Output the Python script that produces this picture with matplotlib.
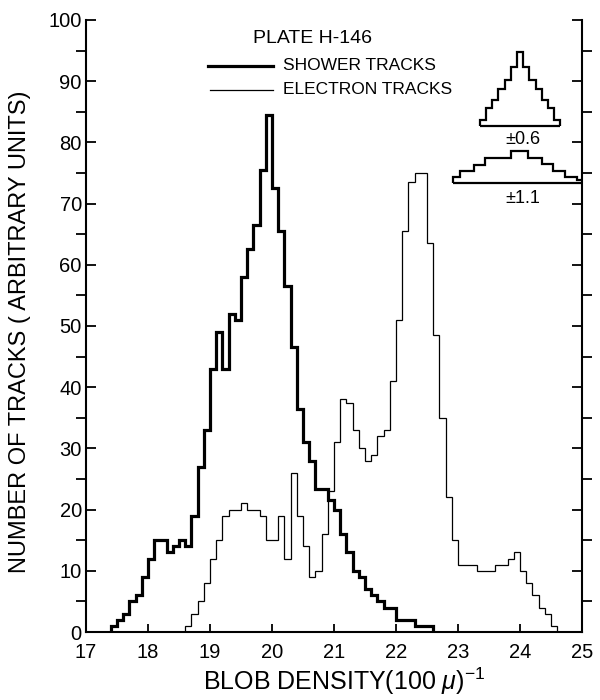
import numpy as np
import matplotlib
matplotlib.use("Agg")
import matplotlib.pyplot as plt
from matplotlib import font_manager

# blob density histograms, bins of 0.1 (100 mu)^-1
shower_start = 17.4
shower = [1, 2, 3, 5, 6, 9, 12, 15, 15, 13, 14, 15, 14, 19, 27, 33,
          43, 49, 43, 52, 51, 58, 62.5, 66.5, 75.5, 84.5, 72.5, 65.5, 56.5, 46.5,
          36.5, 31, 28, 23.3, 23.3, 21.5, 20, 16, 13, 10, 9, 7, 6, 5, 4, 4,
          2, 2, 2, 1, 1, 1]
electron_start = 18.6
electron = [1, 3, 5, 8, 12, 15, 19, 20, 20, 21, 20, 20, 19, 15, 15, 19, 12, 26,
            19, 14, 9, 10, 16, 23, 31, 38, 37.5, 33, 30, 28, 29, 32, 33, 41,
            51, 65.5, 73.5, 75, 75, 63.5, 48.5, 35, 22, 15, 11, 11, 11, 10, 10,
            10, 11, 11, 12, 13, 10, 8, 6, 4, 3, 1]
bin_width = 0.1

# resolution sketches (top right)
narrow_start = 23.35
narrow_base = 82.6
narrow = [1.1, 3, 4.4, 6.1, 7.6, 9.8, 12.1, 9.8, 7.6, 6.1, 4.4, 3, 1.1]
wide_edges = [22.92, 23.03, 23.25, 23.44, 23.64, 23.85, 24.13, 24.35, 24.54,
              24.73, 24.92, 25.02]
wide_base = 73.3
wide = [1.1, 2.1, 3.0, 4.1, 4.1, 5.3, 4.2, 3.1, 2.1, 1.1, 0.6]

xticks = [17, 18, 19, 20, 21, 22, 23, 24, 25]
yticks = [0, 10, 20, 30, 40, 50, 60, 70, 80, 90, 100]

names = {f.name for f in font_manager.fontManager.ttflist}
fam = 'DejaVu Sans'
for cand in ['Liberation Sans Narrow', 'Liberation Sans', 'Roboto']:
    if cand in names:
        fam = cand
        break
plt.rcParams['font.family'] = [fam, 'DejaVu Sans']
plt.rcParams['mathtext.fontset'] = 'custom'
plt.rcParams['mathtext.rm'] = fam
plt.rcParams['mathtext.it'] = fam + ':italic'

fig = plt.figure(figsize=(6, 7), dpi=100)
ax = fig.add_axes([86/600, 68/700, 496/600, 612/700])

def edges_for(start, n):
    return start + bin_width*np.arange(n + 1)

ax.stairs(shower, edges_for(shower_start, len(shower)), color='black', lw=2.3)
ax.stairs(electron, edges_for(electron_start, len(electron)), color='black', lw=0.9)

# inset shapes
ne = edges_for(narrow_start, len(narrow))
ax.stairs(narrow_base + np.array(narrow), ne, baseline=narrow_base, color='black', lw=1.6)
ax.hlines(narrow_base, ne[0], ne[-1], color='black', lw=1.6)
ax.stairs(wide_base + np.array(wide), wide_edges, baseline=wide_base, color='black', lw=1.6)
ax.hlines(wide_base, wide_edges[0], wide_edges[-1], color='black', lw=1.6)
ax.text(24.05, 80.5, '±0.6', ha='center', va='center', fontsize=13)
ax.text(24.05, 70.9, '±1.1', ha='center', va='center', fontsize=13)

# legend by hand
ax.text(20.66, 96.9, 'PLATE H-146', ha='center', va='center', fontsize=14)
ax.plot([18.97, 20.02], [92.5, 92.5], color='black', lw=2.3)
ax.text(20.17, 92.5, 'SHOWER TRACKS', ha='left', va='center', fontsize=12.5)
ax.plot([19.0, 20.02], [88.6, 88.6], color='black', lw=0.9)
ax.text(20.17, 88.6, 'ELECTRON TRACKS', ha='left', va='center', fontsize=12.5)

ax.set_xlim(17, 25)
ax.set_ylim(0, 100)
ax.set_xticks(xticks)
ax.set_yticks(yticks)
ax.set_yticks(np.arange(5, 100, 10), minor=True)
ax.tick_params(axis='both', direction='in', labelsize=14.5, width=1.3)
ax.tick_params(axis='x', length=6, pad=8)
ax.tick_params(axis='y', which='both', length=7, pad=3, right=True)
ax.tick_params(axis='y', which='minor', width=1.3)
ax.spines['top'].set_visible(False)
for s in ['left', 'bottom', 'right']:
    ax.spines[s].set_linewidth(1.5)

ax.set_xlabel('BLOB DENSITY(100 $\\mu$)$^{-1}$', fontsize=18)
ax.xaxis.set_label_coords(0.52, -0.055)
ax.set_ylabel('NUMBER OF TRACKS ( ARBITRARY UNITS)', fontsize=17)
ax.yaxis.set_label_coords(-0.11, 0.49)

fig.savefig('out.png', dpi=100)
